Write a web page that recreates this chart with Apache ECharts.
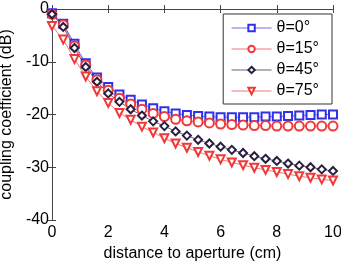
<!DOCTYPE html>
<html>
<head>
<meta charset="utf-8">
<script src="https://cdn.jsdelivr.net/npm/echarts@6/dist/echarts.min.js"></script>
<style>
  html, body { margin: 0; padding: 0; background: #fff; }
  #chart { width: 341px; height: 262px; }
</style>
</head>
<body>
<div id="chart"></div>
<script>
// distance to aperture (cm)
const distance = [0, 0.4, 0.8, 1.2, 1.6, 2.0, 2.4, 2.8, 3.2, 3.6, 4.0, 4.4, 4.8,
    5.2, 5.6, 6.0, 6.4, 6.8, 7.2, 7.6, 8.0, 8.4, 8.8, 9.2, 9.6, 10];

// coupling coefficient (dB) per angle
const theta0 = [-0.8, -2.8, -6.6, -10.3, -13.0, -14.8, -16.2, -17.2, -18.1, -18.8, -19.4, -19.8, -20.1,
    -20.3, -20.4, -20.5, -20.5, -20.5, -20.5, -20.4, -20.4, -20.3, -20.2, -20.1, -20.0, -20.0];
const theta15 = [-1.0, -3.0, -7.0, -10.6, -13.4, -15.4, -16.9, -18.0, -19.0, -19.8, -20.4, -20.9, -21.2,
    -21.4, -21.6, -21.8, -21.9, -22.0, -22.1, -22.1, -22.2, -22.2, -22.2, -22.2, -22.2, -22.2];
const theta45 = [-1.0, -3.4, -7.4, -11.0, -13.8, -16.0, -17.6, -19.0, -20.2, -21.3, -22.2, -23.2, -24.0,
    -24.8, -25.5, -26.1, -26.7, -27.3, -27.9, -28.4, -28.8, -29.3, -29.7, -30.0, -30.4, -30.7];
const theta75 = [-3.2, -5.8, -9.5, -12.8, -15.6, -17.8, -19.7, -21.0, -22.3, -23.4, -24.5, -25.5, -26.3,
    -27.1, -27.8, -28.5, -29.1, -29.6, -30.1, -30.5, -30.9, -31.3, -31.7, -32.0, -32.3, -32.5];

const seriesNames = ["θ=0°", "θ=15°", "θ=45°", "θ=75°"];

const FONT = "Liberation Sans, Arial, sans-serif";
const FONT_SIZE = 16;
const AXIS_COLOR = "#444";

const chart = echarts.init(document.getElementById("chart"));

function pairs(ys) {
    return distance.map((x, i) => [x, ys[i]]);
}

function makeSeries(name, ys, color, symbol, rotate, size) {
    return {
        name: name,
        type: "line",
        data: pairs(ys),
        symbol: symbol,
        symbolRotate: rotate,
        symbolSize: size,
        showAllSymbol: true,
        lineStyle: { color: color, width: 0.7 },
        itemStyle: { color: color, borderColor: color, borderWidth: 0.7 },
        emphasis: { disabled: true },
        animation: false
    };
}

const tickStyle = { inside: true, length: 4, lineStyle: { color: AXIS_COLOR } };
const lineStyle = { lineStyle: { color: AXIS_COLOR, width: 1 } };
const labelText = { fontFamily: FONT, fontSize: FONT_SIZE, color: "#000" };

chart.setOption({
    backgroundColor: "#fff",
    animation: false,

    grid: { left: 52, right: 8, top: 9, bottom: 42, outerBoundsMode: "none", containLabel: false },

    xAxis: [
        {
            type: "value",
            min: 0,
            max: 10,
            interval: 2,
            name: "distance to aperture (cm)",
            nameLocation: "middle",
            nameGap: 25,
            nameTextStyle: labelText,
            axisLine: lineStyle,
            axisTick: tickStyle,
            axisLabel: { ...labelText, margin: 5 },
            splitLine: { show: false }
        },
        {
            type: "value",
            position: "top",
            min: 0,
            max: 10,
            interval: 2,
            axisLine: lineStyle,
            axisTick: tickStyle,
            axisLabel: { show: false },
            splitLine: { show: false }
        }
    ],

    yAxis: [
        {
            type: "value",
            min: -40,
            max: 0,
            interval: 10,
            name: "coupling coefficient (dB)",
            nameLocation: "middle",
            nameGap: 34,
            nameTextStyle: labelText,
            axisLine: { show: true, ...lineStyle },
            axisTick: { show: true, ...tickStyle },
            axisLabel: { ...labelText, margin: 3 },
            splitLine: { show: false }
        },
        {
            type: "value",
            position: "right",
            min: -40,
            max: 0,
            interval: 10,
            axisLine: { show: true, ...lineStyle },
            axisTick: { show: true, ...tickStyle },
            axisLabel: { show: false },
            splitLine: { show: false }
        }
    ],

    legend: {
        orient: "vertical",
        right: 9,
        top: 14,
        data: seriesNames,
        backgroundColor: "#fff",
        borderColor: "#333",
        borderWidth: 1,
        borderRadius: 0,
        padding: [6, 13, 5, 8],
        itemGap: 5,
        itemWidth: 40,
        itemHeight: 8,
        lineStyle: { width: 0.7 },
        itemStyle: { borderWidth: 0.7 },
        textStyle: labelText,
        z: 20
    },

    series: [
        makeSeries(seriesNames[0], theta0, "#3030e8", "emptyRect", 0, 8),
        makeSeries(seriesNames[1], theta15, "#f03838", "emptyCircle", 0, 9),
        makeSeries(seriesNames[2], theta45, "#2a1f3f", "emptyDiamond", 0, 8),
        makeSeries(seriesNames[3], theta75, "#f03838", "emptyTriangle", 180, 8)
    ]
});
</script>
</body>
</html>
